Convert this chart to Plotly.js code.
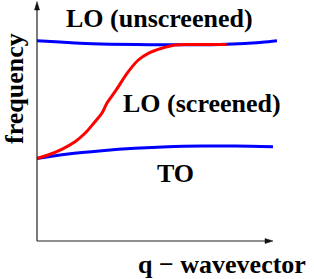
<!DOCTYPE html>
<html>
<head>
<meta charset="utf-8">
<script src="https://cdn.plot.ly/plotly-3.0.1.min.js"></script>
<style>html,body{margin:0;padding:0;background:#fff;}#chart{width:314px;height:279px;}</style>
</head>
<body>
<div id="chart"></div>
<script>
// wavevector q (arbitrary units) and frequency (arbitrary units)
const qLOunscreened = [0, 23, 43, 73, 113, 153, 183, 208, 225, 240];
const fLOunscreened = [200.3, 199, 197.7, 196.8, 196.3, 196.3, 196.5, 197.5, 198.8, 200.3];

const qLOscreened = [0, 11, 24.7, 38, 48, 58, 65, 70, 78, 91.3, 101.3, 111.3, 124.7, 138, 151, 168, 189.7];
const fLOscreened = [82.5, 86, 91.7, 99.3, 107.7, 119.3, 128, 138, 149.3, 169.3, 181, 187.7, 192.7, 196, 196.5, 196.6, 196.5];

const qTO = [0, 31, 65, 98, 131, 165, 198, 236];
const fTO = [82.5, 87, 90.3, 92.7, 94.3, 95, 95, 94.3];

const labels = {
  unscreened: "LO (unscreened)",
  screened: "LO (screened)",
  to: "TO",
  xTitle: "q \u2212 wavevector",
  yTitle: "frequency"
};

const font = {family: "Liberation Serif", size: 26, color: "#000", weight: "bold"};

const traces = [
  {x: qLOunscreened, y: fLOunscreened, mode: "lines", line: {color: "rgb(0,0,255)", width: 3, shape: "spline"}, hoverinfo: "skip"},
  {x: qTO, y: fTO, mode: "lines", line: {color: "rgb(0,0,255)", width: 3, shape: "spline"}, hoverinfo: "skip"},
  {x: qLOscreened, y: fLOscreened, mode: "lines", line: {color: "rgb(255,0,0)", width: 3, shape: "spline"}, hoverinfo: "skip"}
];

const ann = (text, x, y, extra) => Object.assign({text: "<b>" + text + "</b>", x: x, y: y, xref: "x", yref: "y", showarrow: false, font: Object.assign({}, font), xanchor: "center", yanchor: "middle"}, extra || {});

const layout = {
  width: 314, height: 279,
  margin: {l: 34, r: 37, t: 1, b: 35, pad: 0},
  paper_bgcolor: "#fff", plot_bgcolor: "#fff",
  showlegend: false,
  font: {family: "Liberation Serif"},
  xaxis: {range: [-3, 240], showgrid: false, zeroline: false, showline: false, showticklabels: false, ticks: "", fixedrange: true},
  yaxis: {range: [-3, 240], showgrid: false, zeroline: false, showline: false, showticklabels: false, ticks: "", fixedrange: true},
  shapes: [
    {type: "line", xref: "x", yref: "y", x0: 0, y0: 0, x1: 230, y1: 0, line: {color: "#222", width: 1.2}},
    {type: "path", xref: "x", yref: "y", path: "M228,-2.5 L236,0 L228,2.5 Z", fillcolor: "#111", line: {color: "#111", width: 0.5}},
    {type: "line", xref: "x", yref: "y", x0: 0, y0: 0, x1: 0, y1: 234, line: {color: "#222", width: 1.2}},
    {type: "path", xref: "x", yref: "y", path: "M-2.5,231 L0,239.5 L2.5,231 Z", fillcolor: "#111", line: {color: "#111", width: 0.5}}
  ],
  annotations: [
    ann(labels.unscreened, 122, 223),
    ann(labels.screened, 165, 138),
    ann(labels.to, 138, 68),
    ann(labels.xTitle, 0.774, -0.0864, {xref: "paper", yref: "paper"}),
    ann(labels.yTitle, -0.0782, 0.642, {xref: "paper", yref: "paper", textangle: -90})
  ]
};

Plotly.newPlot("chart", traces, layout, {staticPlot: true, displayModeBar: false});
</script>
</body>
</html>
